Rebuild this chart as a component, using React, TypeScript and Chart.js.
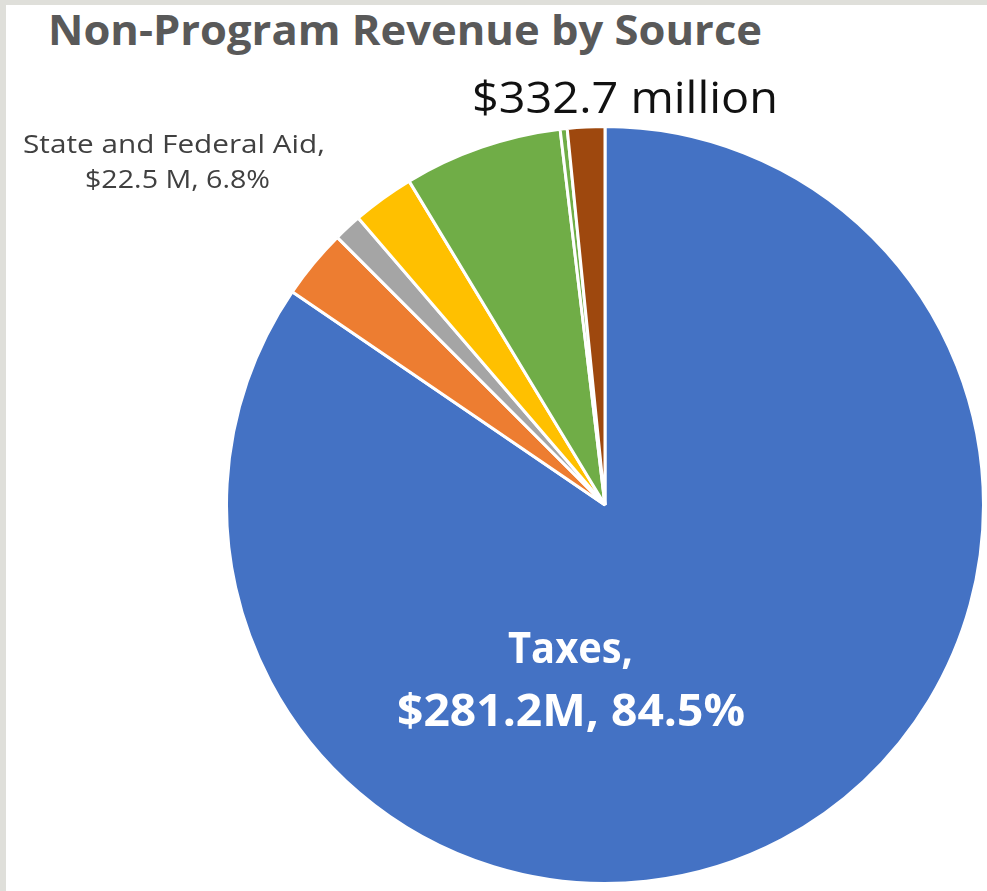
import React, { useEffect, useLayoutEffect, useRef } from "react";
import { Chart, registerables } from "chart.js";

Chart.register(...registerables);

// ---- data ----
const categories = [
  "Taxes",
  "Charges and Fees",
  "Interest",
  "Licenses and Permits",
  "State and Federal Aid",
  "Fines",
  "Other",
];
const valuesM = [281.2, 9.9, 4.0, 8.8, 22.5, 1.0, 5.3];
const sliceColors = ["#4472c4", "#ed7d31", "#a5a5a5", "#ffc000", "#70ad47", "#70ad47", "#9e480e"];

const titleText = "Non-Program Revenue by Source";
const totalText = "$332.7 million";
const aidLabel = ["State and Federal Aid,", "$22.5 M, 6.8%"];
const taxesLabel = ["Taxes,", "$281.2M, 84.5%"];

const FONT = "'Open Sans', 'DejaVu Sans', sans-serif";

type FitProps = {
  text: string;
  left: number;
  baseline: number;
  width: number;
  size: number;
  weight?: number;
  color: string;
};

function FitText({ text, left, baseline, width, size, weight = 400, color }: FitProps) {
  const ref = useRef<HTMLSpanElement | null>(null);
  useLayoutEffect(() => {
    const el = ref.current;
    if (!el) return;
    el.style.transform = "none";
    const w = el.getBoundingClientRect().width;
    if (w > 0) el.style.transform = `scaleX(${width / w})`;
  });
  return (
    <span
      ref={ref}
      style={{
        position: "absolute",
        left,
        top: baseline - 0.888 * size,
        fontFamily: FONT,
        fontSize: size,
        fontWeight: weight,
        lineHeight: `${size}px`,
        color,
        whiteSpace: "nowrap",
        transformOrigin: "left top",
        display: "inline-block",
      }}
    >
      {text}
    </span>
  );
}

export default function App() {
  const canvasRef = useRef<HTMLCanvasElement | null>(null);

  useEffect(() => {
    document.body.style.margin = "0";
    const canvas = canvasRef.current;
    if (!canvas) return;
    const chart = new Chart(canvas, {
      type: "pie",
      data: {
        labels: categories,
        datasets: [
          {
            data: valuesM,
            backgroundColor: sliceColors,
            borderColor: "#ffffff",
            borderWidth: 3,
          },
        ],
      },
      options: {
        animation: false,
        responsive: false,
        maintainAspectRatio: false,
        events: [],
        layout: { padding: 0 },
        plugins: {
          legend: { display: false },
          title: { display: false },
          tooltip: { enabled: false },
        },
      },
    });
    return () => chart.destroy();
  }, []);

  return (
    <div
      style={{
        position: "relative",
        width: 987,
        height: 891,
        background: "#ffffff",
        overflow: "hidden",
      }}
    >
      {/* frame */}
      <div style={{ position: "absolute", left: 0, top: 0, width: 987, height: 5, background: "#dfdfda" }} />
      <div style={{ position: "absolute", left: 0, top: 0, width: 6, height: 891, background: "#dfdfda" }} />

      <canvas
        ref={canvasRef}
        width={760}
        height={760}
        style={{ position: "absolute", left: 225, top: 125, width: 760, height: 760 }}
      />

      <FitText text={titleText} left={48} baseline={45} width={714} size={42} weight={700} color="#595959" />
      <FitText text={totalText} left={472} baseline={113} width={306} size={44} color="#111111" />
      <FitText text={aidLabel[0]} left={23} baseline={153} width={302} size={25} color="#404040" />
      <FitText text={aidLabel[1]} left={85} baseline={188} width={185} size={25} color="#404040" />
      <FitText text={taxesLabel[0]} left={508} baseline={663} width={125} size={43} weight={700} color="#ffffff" />
      <FitText text={taxesLabel[1]} left={397} baseline={726} width={348} size={45} weight={700} color="#ffffff" />
    </div>
  );
}
